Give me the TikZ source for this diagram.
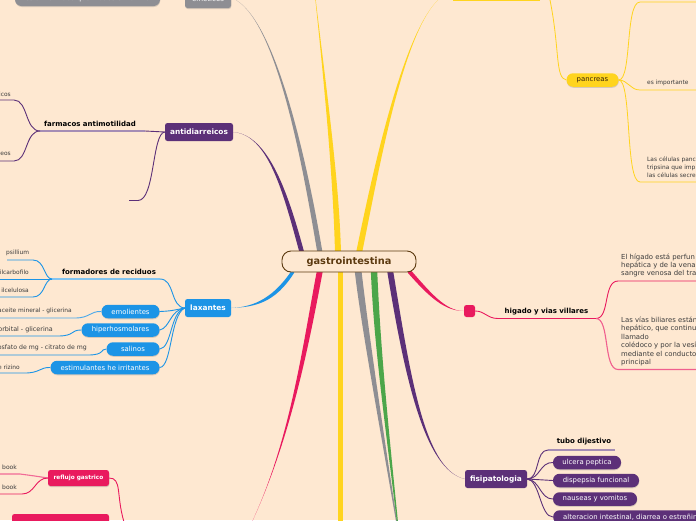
\documentclass[tikz,border=0pt]{standalone}
\usepackage{fontspec}
\setmainfont{DejaVu Sans}
\usetikzlibrary{calc,shadows}
\definecolor{bgcream}{HTML}{FEE8D1}
\definecolor{rootbrown}{HTML}{5C3A10}
\definecolor{mmpurple}{HTML}{5C3078}
\definecolor{mmgrey}{HTML}{8E8E93}
\definecolor{mmyellow}{HTML}{FFD41E}
\definecolor{mmblue}{HTML}{1C94E6}
\definecolor{mmpink}{HTML}{E91A5E}
\definecolor{mmgreen}{HTML}{4CA64A}
\definecolor{inktext}{HTML}{3C3C3C}
\tikzset{
  x=1pt,y=-1pt,
  softshadow/.style={drop shadow={opacity=.3,shadow xshift=.3pt,shadow yshift=-1pt}},
  topic/.style={rounded corners=2.5pt,text=white,font=\fontsize{7.4}{9}\selectfont\bfseries,inner sep=0pt,minimum height=18pt},
  pill/.style={rounded corners=6.5pt,text=white,font=\fontsize{6.9}{8}\selectfont,inner sep=0pt,minimum height=13.5pt,softshadow},
  boldlabel/.style={font=\fontsize{7}{8}\selectfont\bfseries,text=black,inner sep=0pt},
  leaf/.style={font=\fontsize{5.9}{7}\selectfont,text=inktext,inner sep=0pt,anchor=west},
  cutleaf/.style={leaf,anchor=east},
  bigleaf/.style={font=\fontsize{6.9}{8.5}\selectfont,text=inktext,inner sep=0pt,anchor=west},
  twig/.style={line width=0.9pt},
}
% tapered branch: from, control, control, to, half width offset, colour
\newcommand{\taper}[6]{\fill[#6] ($(#1)-(#5)$) .. controls ($(#2)-(#5)$) and (#3) .. (#4) .. controls (#3) and ($(#2)+(#5)$) .. ($(#1)+(#5)$) -- cycle;}
\begin{document}
\begin{tikzpicture}
\useasboundingbox (0,0) rectangle (696,520);
\clip (0,0) rectangle (696,520);
\fill[bgcream] (0,0) rectangle (696,520);

% free ends
\coordinate (rootnw) at (302,253);
\coordinate (rootgu) at (320,253);
\coordinate (rootyu) at (338,253);
\coordinate (rootyv) at (359,253);
\coordinate (rootbl) at (294,270);
\coordinate (rootpr) at (408,270);
\coordinate (rootpu) at (390,270);
\coordinate (rootgr) at (374,270);
\coordinate (rootgd) at (358,270);
\coordinate (rootyd) at (340,270);
\coordinate (rootpl) at (320,270);
\coordinate (yellowtop) at (438,0);
\coordinate (greentop) at (410,640);
\coordinate (greybot) at (416,640);
\coordinate (yellowbot) at (340,522);
\coordinate (pinkbot) at (252,522);
\coordinate (emeend) at (236,0);
\coordinate (yellowup) at (310,-50);

% first level
\node (antid) at (199,132) [topic,fill=mmpurple,minimum width=68pt] {antidiarreicos};
\node (emet) at (208,-1) [topic,fill=mmgrey,minimum width=46pt,font=\fontsize{7}{9}\selectfont,softshadow] {emeticos};
\node (indu) at (87.5,-1) [pill,fill=mmgrey,minimum width=145pt,minimum height=14pt] {es un farmaco que induce el vomito};
\node (laxa) at (208,308) [topic,fill=mmblue,minimum width=46pt] {laxantes};
\node (higsq) at (469.5,311) [topic,fill=mmpink,minimum width=11pt,minimum height=12pt] {};
\node (fisi) at (496,479) [topic,fill=mmpurple,minimum width=62pt] {fisipatologia};
\node (panc) at (592.5,80) [pill,fill=mmyellow,text=rootbrown!60!black,minimum width=52pt] {pancreas};

% main branches
\taper{rootnw}{285,190}{268,135}{antid.east}{2.4,0}{mmpurple}
\taper{rootgu}{306,170}{278,25}{emeend}{2.6,0}{mmgrey}
\taper{rootyu}{336,170}{322,60}{yellowup}{3,0}{mmyellow}
\taper{rootyv}{375,175}{402,35}{yellowtop}{3,0}{mmyellow}
\taper{rootbl}{275,300}{255,307}{laxa.east}{0,3}{mmblue}
\taper{rootpr}{430,295}{445,311}{higsq.west}{0,3}{mmpink}
\taper{rootpu}{408,380}{425,470}{fisi.west}{3,0}{mmpurple}
\taper{rootgd}{366,340}{390,480}{greybot}{3.4,0}{mmgrey}
\taper{rootgr}{378,370}{394,480}{greentop}{3.2,0}{mmgreen}
\draw[mmyellow,line width=5pt] (rootyd) -- (yellowbot);
\taper{rootpl}{305,350}{290,440}{pinkbot}{3,0}{mmpink}

% main node
\node (root) at (349,261.5) [draw=rootbrown,line width=0.9pt,fill=bgcream,rounded corners=9pt,minimum width=134pt,minimum height=21pt,inner sep=0pt,text=rootbrown,font=\fontsize{9.8}{11}\selectfont\bfseries] {gastrointestina};

% purple, top left
\node (antimot) at (90,123.5) [boldlabel] {farmacos antimotilidad};
\coordinate (antimotl) at (40,131);
\coordinate (antimotr) at (145,131);
\coordinate (upicos) at (0,100);
\coordinate (upceos) at (0,161);
\coordinate (antifree) at (129,200.5);
\node (icos) at (11,94) [cutleaf] {icos};
\node (ceos) at (11,154) [cutleaf] {ceos};
\draw[mmpurple!55,line width=1.5pt] (antimotl) -- (antimotr);
\draw[mmpurple,twig] (antimotr) .. controls (155,131) .. (antid.west);
\draw[mmpurple,twig] (antimotl) .. controls (25,131) and (28,100) .. (14,100) -- (upicos);
\draw[mmpurple,twig] (antimotl) .. controls (25,131) and (28,161) .. (14,161) -- (upceos);
\draw[mmpurple,twig] (antid.west) .. controls (152,133) and (155,200.5) .. (138,200.5) -- (antifree);

% blue, left
\node (forma) at (109,271.5) [boldlabel] {formadores de reciduos};
\coordinate (formal) at (52,279);
\coordinate (formar) at (160,279);
\node (psil) at (6,253) [leaf] {psillium};
\node (carb) at (29,272) [cutleaf] {ilcarbofilo};
\node (celu) at (29,290) [cutleaf] {ilcelulosa};
\coordinate (psile) at (7,260);
\coordinate (carbe) at (0,279);
\coordinate (celue) at (0,297);
\node (emol) at (130.5,311.5) [pill,fill=mmblue,minimum width=58pt] {emolientes};
\node (hiper) at (120.5,330) [pill,fill=mmblue,minimum width=78pt] {hiperhosmolares};
\node (sali) at (133,349) [pill,fill=mmblue,minimum width=53pt] {salinos};
\node (estim) at (105,367.5) [pill,fill=mmblue,minimum width=109pt] {estimulantes he irritantes};
\node (aceit) at (72,311) [cutleaf] {aceite mineral - glicerina};
\node (sorb) at (53,330) [cutleaf,font=\fontsize{6.4}{7}\selectfont] {orbital - glicerina};
\node (fosf) at (87,348) [cutleaf,font=\fontsize{6.2}{7}\selectfont] {osfato de mg - citrato de mg};
\node (rici) at (20,367) [cutleaf] {e rizino};
\coordinate (aceite) at (0,318);
\coordinate (sorbe) at (0,336);
\coordinate (fosfe) at (0,355);
\coordinate (ricie) at (0,373);
\draw[mmblue!55,line width=1.5pt] (formal) -- (formar);
\draw[mmblue,twig] (formar) .. controls (175,279) and (170,307) .. (laxa.west);
\draw[mmblue,twig] (formal) .. controls (44,279) and (45,260) .. (33,260) -- (psile);
\draw[mmblue,twig] (formal) -- (carbe);
\draw[mmblue,twig] (formal) .. controls (44,279) and (45,297) .. (33,297) -- (celue);
\draw[mmblue,twig] (emol.east) .. controls (170,311) .. (laxa.west);
\draw[mmblue,twig] (hiper.east) .. controls (170,328) and (170,310) .. (laxa.west);
\draw[mmblue,twig] (sali.east) .. controls (172,348) and (170,312) .. (laxa.west);
\draw[mmblue,twig] (estim.east) .. controls (172,367) and (170,315) .. (laxa.west);
\draw[mmblue!80,twig] (emol.west) .. controls (90,311) and (90,318) .. (75,318) -- (aceite);
\draw[mmblue,twig] (hiper.west) .. controls (70,330) and (75,336) .. (58,336) -- (sorbe);
\draw[mmblue,twig] (sali.west) .. controls (100,349) and (105,355) .. (88,355) -- (fosfe);
\draw[mmblue,twig] (estim.west) .. controls (40,367) and (40,373) .. (25,373) -- (ricie);

% pink, bottom left
\node (refl) at (78.5,478) [topic,fill=mmpink,minimum width=61pt,minimum height=16pt,font=\fontsize{5.8}{7}\selectfont\bfseries,softshadow] {reflujo gastrico};
\node (ulce) at (60.5,522) [topic,fill=mmpink,minimum width=97pt,minimum height=16pt] {};
\node (book1) at (2,467) [leaf,font=\fontsize{6}{7}\selectfont] {book};
\node (book2) at (2,487) [leaf,font=\fontsize{6}{7}\selectfont] {book};
\coordinate (book1e) at (0,474);
\coordinate (book2e) at (0,494);
\coordinate (reflend) at (124,522);
\draw[mmpink!65,line width=1.1pt] (refl.west) .. controls (35,476) .. (20,474) -- (book1e);
\draw[mmpink,twig] (refl.west) .. controls (35,478) and (35,494) .. (22,494) -- (book2e);
\draw[mmpink,twig] (refl.east) .. controls (122,478) and (116,495) .. (reflend);

% yellow, top right
\coordinate (topl) at (453,0.2);
\coordinate (topr) at (540,0.2);
\coordinate (pa) at (640,2);
\coordinate (pb) at (640,90);
\coordinate (pc) at (640,182);
\coordinate (paend) at (697,2);
\coordinate (pbend) at (697,90);
\coordinate (pcend) at (697,182);
\coordinate (toptwig) at (550,0);
\node (impo) at (647,83) [leaf] {es importante};
\node (celp) at (647,160) [leaf] {Las células panc};
\node (celq) at (647,168) [leaf] {tripsina que imp};
\node (celr) at (647,175) [leaf] {las células secre};
\draw[mmyellow,line width=1.4pt] (topl) -- (topr);
\draw[mmyellow,line width=0.8pt] (toptwig) .. controls (560,50) and (555,78) .. (panc.west);
\draw[mmyellow,line width=0.8pt] (panc.east) .. controls (632,80) and (625,2) .. (pa) -- (paend);
\draw[mmyellow,line width=0.8pt] (panc.east) .. controls (628,80) and (630,90) .. (pb) -- (pbend);
\draw[mmyellow,line width=0.8pt] (panc.east) .. controls (632,80) and (625,182) .. (pc) -- (pcend);

% pink, right
\node (higa) at (546.5,311.5) [boldlabel] {higado y vias villares};
\coordinate (higl) at (498,318.5);
\coordinate (higr) at (596,318.5);
\coordinate (liva) at (618,281);
\coordinate (livb) at (618,369.5);
\coordinate (livaend) at (697,281);
\coordinate (livbend) at (697,369.5);
\draw[mmpink,twig] (higsq.east) .. controls (485,311) and (487,318.5) .. (higl) -- (higr);
\draw[mmpink,twig] (higr) .. controls (610,318.5) and (603,281) .. (liva) -- (livaend);
\draw[mmpink!70,line width=1.1pt] (higr) .. controls (610,318.5) and (603,369.5) .. (livb) -- (livbend);
\node (liv1) at (621,257) [bigleaf] {El hígado está perfun};
\node (liv2) at (621,265.5) [bigleaf] {hepática y de la vena};
\node (liv3) at (621,274) [bigleaf] {sangre venosa del tra};
\node (bil1) at (621,320) [bigleaf] {Las vías biliares están};
\node (bil2) at (621,328.5) [bigleaf] {hepático, que continu};
\node (bil3) at (621,337) [bigleaf] {llamado};
\node (bil4) at (621,345.5) [bigleaf] {colédoco y por la vesí};
\node (bil5) at (621,354) [bigleaf] {mediante el conducto};
\node (bil6) at (621,362.5) [bigleaf] {principal};

% purple, bottom right
\node (tubo) at (584,442) [boldlabel] {tubo dijestivo};
\coordinate (tubol) at (548,450);
\coordinate (tubor) at (615,450);
\node (ulcp) at (587,462.5) [pill,fill=mmpurple,minimum width=68pt] {ulcera peptica};
\node (disp) at (596,480.5) [pill,fill=mmpurple,minimum width=86pt] {dispepsia funcional};
\node (naus) at (595,499) [pill,fill=mmpurple,minimum width=84pt] {nauseas y vomitos};
\node (alte) at (553,517) [pill,fill=mmpurple,anchor=west,inner xsep=10pt] {alteracion intestinal, diarrea o estreñimiento};
\draw[mmpurple!55,line width=1.5pt] (tubol) -- (tubor);
\draw[mmpurple,twig] (fisi.east) .. controls (540,479) and (535,450) .. (tubol);
\draw[mmpurple,twig] (fisi.east) .. controls (540,479) and (540,462) .. (ulcp.west);
\draw[mmpurple,twig] (fisi.east) -- (disp.west);
\draw[mmpurple,twig] (fisi.east) .. controls (540,480) and (540,499) .. (naus.west);
\draw[mmpurple,twig] (fisi.east) .. controls (540,480) and (540,517) .. (alte.west);
\end{tikzpicture}
\end{document}
